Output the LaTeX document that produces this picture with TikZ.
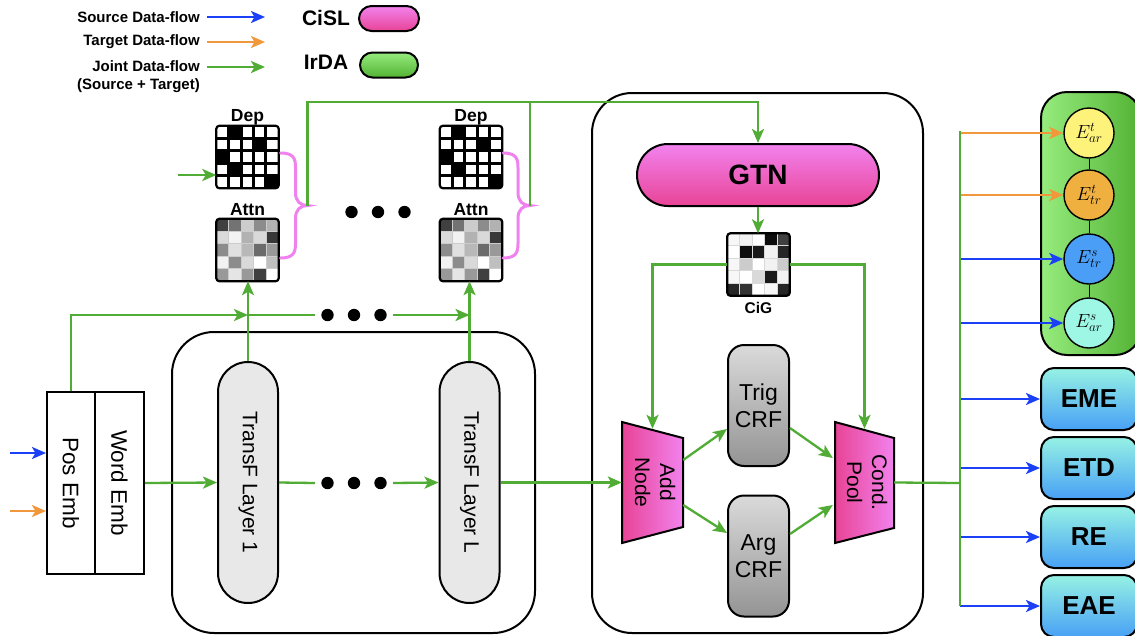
\RequirePackage{fix-cm}
\documentclass[tikz,border=0pt]{standalone}
\usepackage{fontspec}
\setmainfont{Liberation Sans}
\usepackage{graphicx}
\usetikzlibrary{arrows.meta,calc}

\definecolor{flowgreen}{RGB}{80,172,52}
\definecolor{flowblue}{RGB}{28,64,245}
\definecolor{floworange}{RGB}{242,152,60}
\definecolor{pinklight}{RGB}{242,130,238}
\definecolor{pinkdeep}{RGB}{232,68,150}
\definecolor{irdalight}{RGB}{150,236,125}
\definecolor{irdadeep}{RGB}{82,178,52}
\definecolor{tasklight}{RGB}{150,242,228}
\definecolor{taskdeep}{RGB}{72,160,245}
\definecolor{crflight}{RGB}{218,218,218}
\definecolor{crfdeep}{RGB}{148,148,148}
\definecolor{layergray}{RGB}{232,232,232}
\definecolor{bracepink}{RGB}{240,130,240}
\definecolor{eartcol}{RGB}{253,242,122}
\definecolor{etrtcol}{RGB}{240,176,64}
\definecolor{etrscol}{RGB}{74,158,245}
\definecolor{earscol}{RGB}{158,246,228}

% 5x5 cell matrix drawn inside an empty square node
\newcommand\cellmatrix[3]{%
  \edef\celllist{#2}%
  \foreach \v [count=\i from 0] in \celllist {%
    \pgfmathtruncatemacro\mrow{\i/5}%
    \pgfmathtruncatemacro\mcol{\i-5*\mrow}%
    \fill[black!\v] ($(#1.north west)+(\mcol*12.4,\mrow*12.4)$) rectangle ++(12.4,12.4);
  }%
  \foreach \k in {1,...,4}{%
    \draw[#3] ($(#1.north west)+(\k*12.4,0)$) -- ++(0,62);
    \draw[#3] ($(#1.north west)+(0,\k*12.4)$) -- ++(62,0);
  }%
  \draw[line width=2.2pt, rounded corners=3pt] (#1.north west) rectangle (#1.south east);
}

% curly brace whose point is at the given coordinate
\newcommand\pinkbrace[1]{%
  \draw[bracepink, line width=3pt, line cap=round]
    ($(#1)+(-27,-52.5)$) .. controls ($(#1)+(-14,-52.5)$) and ($(#1)+(-12,-47)$) .. ($(#1)+(-12,-38)$)
    -- ($(#1)+(-12,-13)$) .. controls ($(#1)+(-12,-4)$) and ($(#1)+(-7,0)$) .. (#1)
    .. controls ($(#1)+(-7,0)$) and ($(#1)+(-12,4)$) .. ($(#1)+(-12,13)$)
    -- ($(#1)+(-12,38)$) .. controls ($(#1)+(-12,47)$) and ($(#1)+(-14,52.5)$) .. ($(#1)+(-27,52.5)$);
}

% three big dots centred on a node
\newcommand\threedots[1]{%
  \foreach \dx in {-26.5,0,26.5}{\fill ($(#1.center)+(\dx,0)$) circle (6.2pt);}%
}

\begin{document}
\begin{tikzpicture}[x=1pt,y=-1pt,
  flow/.style={draw=flowgreen, line width=2.3pt},
  srcflow/.style={draw=flowblue, line width=2.3pt},
  tgtflow/.style={draw=floworange, line width=2.3pt},
  tip/.style={-{Stealth[length=14pt,width=12pt,inset=3.5pt]}},
  box/.style={draw=black, line width=2pt, inner sep=0pt},
  legtxt/.style={font=\fontsize{15}{17}\selectfont\bfseries, inner sep=0pt, anchor=east},
  bigtxt/.style={font=\fontsize{21}{23}\selectfont\bfseries, inner sep=0pt},
  lbl/.style={font=\fontsize{17.5}{19}\selectfont\bfseries, inner sep=0pt},
  matnode/.style={minimum size=62pt, inner sep=0pt},
  emb/.style={box, minimum height=182pt, font=\fontsize{22.5}{24}\selectfont},
  layerbox/.style={box, fill=layergray, rounded corners=30pt, minimum width=60pt, minimum height=241pt, font=\fontsize{21}{23}\selectfont},
  crf/.style={box, rounded corners=16pt, minimum width=61pt, minimum height=121pt, top color=crflight, bottom color=crfdeep, align=center, font=\fontsize{23}{27}\selectfont},
  trapnode/.style={inner sep=0pt, minimum height=121pt, font=\fontsize{21}{25}\selectfont},
  trapfill/.style={line width=2pt, left color=pinkdeep, right color=pinklight},
  dotrow/.style={minimum width=78pt, minimum height=12pt, inner sep=0pt},
  evt/.style={circle, draw, line width=1.4pt, minimum size=50pt, inner sep=0pt, font=\fontsize{19}{20}\selectfont},
  task/.style={box, rounded corners=13pt, minimum width=96pt, minimum height=62pt, top color=tasklight, bottom color=taskdeep, font=\fontsize{26}{28}\selectfont\bfseries},
]
\useasboundingbox (0,0) rectangle (1135,635);
\fill[white] (0,0) rectangle (1135,635);

% ---------------- legend ----------------
\node[legtxt] (lsrc) at (200,17) {Source Data-flow};
\node[legtxt] (ltgt) at (200,42) {Target Data-flow};
\node[legtxt] (ljnt) at (200,66) {Joint Data-flow};
\node[legtxt] (ljnt2) at (200,86) {(Source + Target)};
\coordinate (ls1) at (207,17); \coordinate (ls2) at (265,17);
\coordinate (lt1) at (207,42); \coordinate (lt2) at (265,42);
\coordinate (lj1) at (207,67); \coordinate (lj2) at (265,67);
\draw[srcflow,tip] (ls1) -- (ls2);
\draw[tgtflow,tip] (lt1) -- (lt2);
\draw[flow,tip] (lj1) -- (lj2);
\node[bigtxt] (lcisl) at (326,18) {CiSL};
\node[bigtxt] (lirda) at (326,62) {IrDA};
\node[box, rounded corners=12.5pt, minimum width=60pt, minimum height=25pt, top color=pinklight, bottom color=pinkdeep] (cislpill) at (389,18.5) {};
\node[box, rounded corners=12.5pt, minimum width=58pt, minimum height=25pt, top color=irdalight, bottom color=irdadeep] (irdapill) at (389,65) {};

% ---------------- containers ----------------
\draw[line width=2pt, rounded corners=42pt] (172,332) rectangle (535,633);
\draw[line width=2pt, rounded corners=40pt] (592,93) rectangle (923,633);
\draw[line width=2pt, rounded corners=26pt, left color=irdalight, right color=irdadeep] (1041,92) rectangle (1141,355);

% ---------------- embeddings and encoder ----------------
\node[emb, minimum width=48pt] (pos) at (71,483) {\rotatebox{-90}{Pos Emb}};
\node[emb, minimum width=49pt] (word) at (119.5,483) {\rotatebox{-90}{Word Emb}};
\node[layerbox] (t1) at (248,482.5) {\rotatebox{-90}{TransF Layer 1}};
\node[layerbox] (tL) at (469.5,482.5) {\rotatebox{-90}{TransF Layer L}};

% ---------------- dependency / attention matrices ----------------
\node[lbl] (deplbl1) at (247.5,117) {Dep};
\node[lbl] (attnlbl1) at (247.5,210) {Attn};
\node[lbl] (deplbl2) at (471,117) {Dep};
\node[lbl] (attnlbl2) at (471,210) {Attn};
\node[matnode] (dep1) at (247.5,157) {};
\node[matnode] (attn1) at (247.5,250) {};
\node[matnode] (dep2) at (471,157) {};
\node[matnode] (attn2) at (471,250) {};
\def\deppattern{0,100,0,0,0, 0,0,0,100,0, 100,0,0,0,0, 0,100,0,0,0, 0,0,0,0,100}
\def\attnpattern{75,55,20,45,30, 15,5,30,15,78, 45,12,28,58,40, 5,45,15,0,25, 40,10,40,75,0}
\cellmatrix{dep1}{\deppattern}{line width=3pt}
\cellmatrix{dep2}{\deppattern}{line width=3pt}
\cellmatrix{attn1}{\attnpattern}{line width=0.6pt, gray!40}
\cellmatrix{attn2}{\attnpattern}{line width=0.6pt, gray!40}

\coordinate (tip1) at (307.5,205.5);
\coordinate (tip2) at (530,205.5);
\pinkbrace{tip1}
\pinkbrace{tip2}

\node[dotrow] (dotsC) at (378,212) {};
\threedots{dotsC}

% ---------------- CiSL module ----------------
\node[box, rounded corners=31pt, minimum width=242pt, minimum height=62pt, top color=pinklight, bottom color=pinkdeep, font=\fontsize{28}{30}\selectfont\bfseries] (gtn) at (758,175) {GTN};
\node[matnode] (cig) at (758.5,264.5) {};
\cellmatrix{cig}{3,5,0,95,75, 0,95,90,5,85, 3,20,0,5,20, 3,0,15,90,5, 85,80,0,3,85}{line width=0.5pt, gray!30}
\node[lbl, font=\fontsize{15.5}{17}\selectfont\bfseries] (ciglbl) at (758.5,308) {CiG};

\node[crf] (trig) at (758.5,405.5) {Trig\\CRF};
\node[crf] (arg) at (758.5,556) {Arg\\CRF};

\draw[trapfill] (622,422) -- (683,438) -- (683,527) -- (622,543) -- cycle;
\node[trapnode, minimum width=61pt] (addnode) at (652.5,482.5)
  {\rotatebox{-90}{\begin{tabular}{@{}c@{}}Add\\Node\end{tabular}}};
\draw[trapfill] (835,422) -- (894,438) -- (894,528) -- (835,543) -- cycle;
\node[trapnode, minimum width=59pt] (condpool) at (864.5,482.5)
  {\rotatebox{-90}{\begin{tabular}{@{}c@{}}Cond.\\Pool\end{tabular}}};

% ---------------- IrDA events and tasks ----------------
\node[evt, fill=eartcol] (eart) at (1089,133) {$E^{t}_{ar}$};
\node[evt, fill=etrtcol] (etrt) at (1089,195) {$E^{t}_{tr}$};
\node[evt, fill=etrscol] (etrs) at (1089,259) {$E^{s}_{tr}$};
\node[evt, fill=earscol] (ears) at (1089,323) {$E^{s}_{ar}$};
\draw[line width=1pt] (eart) -- (etrt);
\draw[line width=1pt] (etrt) -- (etrs);
\draw[line width=1pt] (etrs) -- (ears);

\node[task] (eme) at (1089,399) {EME};
\node[task] (etd) at (1089,468) {ETD};
\node[task] (re) at (1089,537) {RE};
\node[task] (eae) at (1089,606) {EAE};

% ---------------- data flow ----------------
\coordinate (ins) at (10,453);
\coordinate (int) at (10,511);
\draw[srcflow,tip] (ins) -- (ins -| pos.west);
\draw[tgtflow,tip] (int) -- (int -| pos.west);

\coordinate (k1) at (248,315);
\coordinate (k2) at (469.5,315);
\node[dotrow] (dotsA) at (354,315) {};
\node[dotrow] (dotsB) at (354,483) {};
\threedots{dotsA}
\threedots{dotsB}
\draw[flow,tip] (pos.north) |- (k1);
\draw[flow] (k1) -- (dotsA.west);
\draw[flow,tip] (dotsA.east) -- (k2);
\draw[flow,tip] (t1.north) -- (t1.north |- attn1.south);
\draw[flow,tip] (tL.north) -- (tL.north |- attn2.south);

\draw[flow,tip] (word.east) -- (t1.west);
\draw[flow] (t1.east) -- (dotsB.west);
\draw[flow,tip] (dotsB.east) -- (tL.west);
\draw[flow,tip] (tL.east) -- (addnode.west);

\coordinate (depin) at (178,175);
\draw[flow,tip] (depin) -- (depin -| dep1.west);

\coordinate (bus) at (758,102);
\draw[flow,tip] (tip1) |- (bus) -- (gtn.north);
\draw[flow] (tip2) -- (tip2 |- bus);
\draw[flow,tip] (gtn.south) -- (gtn.south |- cig.north);
\draw[flow,tip] (cig.west) -| ([yshift=-7pt]addnode.north);
\draw[flow,tip] (cig.east) -| ([yshift=-7pt]condpool.north);

\draw[flow,tip] ([yshift=22.5pt]addnode.east) -- ([yshift=-23.5pt]trig.west);
\draw[flow,tip] ([yshift=-22.5pt]addnode.east) -- ([yshift=23pt]arg.west);
\draw[flow,tip] ([yshift=-22.5pt]trig.east) -- ([yshift=24.5pt,xshift=-2pt]condpool.west);
\draw[flow,tip] ([yshift=22pt]arg.east) -- ([yshift=-22.5pt,xshift=-2pt]condpool.west);

\coordinate (split) at (960,483);
\coordinate (vtop) at (960,131);
\coordinate (vbot) at (960,606);
\draw[tgtflow,tip] (eart.west -| split) -- (eart.west);
\draw[tgtflow,tip] (etrt.west -| split) -- (etrt.west);
\draw[srcflow,tip] (etrs.west -| split) -- (etrs.west);
\draw[srcflow,tip] (ears.west -| split) -- (ears.west);
\draw[srcflow,tip] (eme.west -| split) -- (eme.west);
\draw[srcflow,tip] (etd.west -| split) -- (etd.west);
\draw[srcflow,tip] (re.west -| split) -- (re.west);
\draw[srcflow,tip] (eae.west -| split) -- (eae.west);
\draw[flow] (condpool.east) -- (split);
\draw[flow] (vtop) -- (vbot);
\end{tikzpicture}
\end{document}
